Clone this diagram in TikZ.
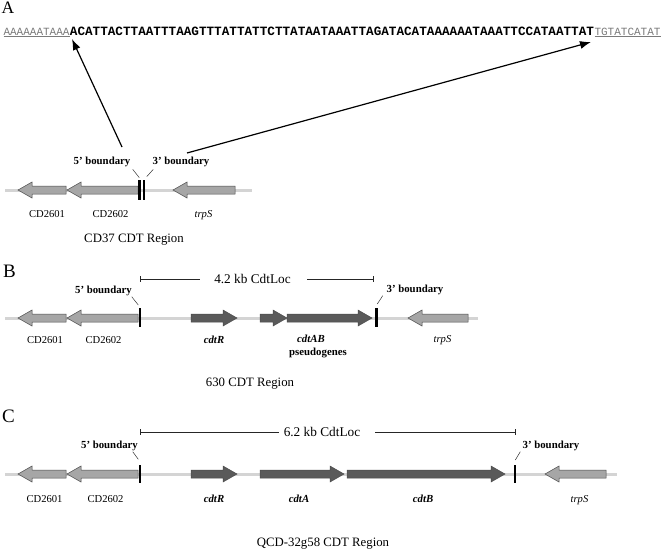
\documentclass[tikz,border=0pt]{standalone}
\usepackage{fontspec}
\setmainfont{Liberation Serif}
\newfontfamily\seqfont{Liberation Mono}
\usetikzlibrary{arrows.meta}
\definecolor{lgene}{HTML}{A6A6A6}
\definecolor{dgene}{HTML}{5A5A5A}
\definecolor{gline}{HTML}{D4D4D4}
\definecolor{geneedge}{HTML}{4A4A4A}
\definecolor{seqgrey}{HTML}{7A7A7A}
% rightward gene: tail x, tip x, y, fill
\newcommand{\geneR}[4]{%
 \filldraw[geneedge, line width=0.5pt, fill=#4] (#1,{#3-4}) -- ({#2-14},{#3-4}) -- ({#2-14},{#3-8}) -- (#2,#3) -- ({#2-14},{#3+8}) -- ({#2-14},{#3+4}) -- (#1,{#3+4}) -- cycle;}
% leftward gene: tail x, tip x, y, fill
\newcommand{\geneL}[4]{%
 \filldraw[geneedge, line width=0.5pt, fill=#4] (#1,{#3-4}) -- ({#2+14},{#3-4}) -- ({#2+14},{#3-8}) -- (#2,#3) -- ({#2+14},{#3+8}) -- ({#2+14},{#3+4}) -- (#1,{#3+4}) -- cycle;}
\begin{document}
\begin{tikzpicture}[x=1pt,y=-1pt,
  lbl/.style={font=\fontsize{10.6}{12}\selectfont, inner sep=0, anchor=base},
  ilbl/.style={font=\fontsize{10.6}{12}\selectfont\itshape, inner sep=0, anchor=base},
  bilbl/.style={font=\fontsize{10.8}{12}\selectfont\bfseries\itshape, inner sep=0, anchor=base},
  blbl/.style={font=\fontsize{10.8}{12}\selectfont\bfseries, inner sep=0, anchor=base},
  ttl/.style={font=\fontsize{12.8}{14}\selectfont, inner sep=0, anchor=base},
  sclbl/.style={font=\fontsize{13.3}{15}\selectfont, inner sep=0, anchor=base},
  letter/.style={font=\fontsize{19}{21}\selectfont, inner sep=0, anchor=base west},
  chrom/.style={gline, line width=3pt},
  bnd/.style={black, line width=2.5pt},
  leader/.style={black!80, line width=0.5pt},
  scalebar/.style={black!85, line width=0.9pt},
  tickmark/.style={black!85, line width=0.9pt},
  arr/.style={black, line width=1.2pt, -{Latex[length=11pt,width=8pt]}}
]
\useasboundingbox (0,0) rectangle (664,549);

% ---------------- Panel A ----------------
\node[letter, font=\fontsize{17.5}{19}\selectfont] (lA) at (1.5,13.5) {A};
\node[inner sep=0, anchor=base west, text=seqgrey, font=\fontsize{11}{12}\seqfont] (s1) at (3.3,35) {\underline{AAAAAATAAA}};
\node[inner sep=0, anchor=base west, font=\fontsize{12.66}{14}\seqfont\bfseries] (s2) at (s1.base east) {ACATTACTTAATTTAAGTTTATTATTCTTATAATAAATTAGATACATAAAAAATAAATTCCATAATTAT};
\node[inner sep=0, anchor=base west, text=seqgrey, font=\fontsize{11}{12}\seqfont] (s3) at (s2.base east) {\underline{TGTATCATAT}};

\draw[chrom] (5,190) -- (252,190);
\geneL{66}{18}{190}{lgene}
\geneL{138}{67}{190}{lgene}
\geneL{235}{173}{190}{lgene}
\draw[bnd] (139.5,180) -- (139.5,200);
\draw[bnd] (143.8,180) -- (143.8,200);

\node[blbl] (a5) at (102,164.5) {5’ boundary};
\node[blbl] (a3) at (181,164.5) {3’ boundary};
\draw[leader] (132.7,169.3) -- (139.3,177.7);
\draw[leader] (153.3,169.3) -- (146.7,176.7);

\coordinate (a5tail) at (122,147);
\coordinate (a5tip) at (72,39);
\coordinate (a3tail) at (187,153);
\coordinate (a3tip) at (591,42);
\draw[arr] (a5tail) -- (a5tip);
\draw[arr] (a3tail) -- (a3tip);

\node[lbl] (aCD1) at (47,217) {CD2601};
\node[lbl] (aCD2) at (110.5,217) {CD2602};
\node[ilbl] (atrp) at (203.5,217) {trpS};
\node[ttl] (atitle) at (134,242) {CD37 CDT Region};

% ---------------- Panel B ----------------
\node[letter] (lB) at (3,277) {B};
\coordinate (bsL) at (140,279);
\coordinate (bsR) at (373,279);
\node[sclbl] (bsc) at (252.5,283.4) {4.2 kb CdtLoc};
\draw[scalebar] (bsL) -- (200,279);
\draw[scalebar] (307,279) -- (bsR);
\draw[tickmark] (140,276) -- (140,282);
\draw[tickmark] (373,276) -- (373,282);

\draw[chrom] (5,318) -- (478,318);
\geneL{66}{18}{318}{lgene}
\geneL{138}{67}{318}{lgene}
\geneR{191}{237}{318}{dgene}
\geneR{260}{287}{318}{dgene}
\geneR{287}{372}{318}{dgene}
\geneL{468}{408}{318}{lgene}
\draw[bnd] (140,308) -- (140,327);
\draw[bnd] (376.7,308) -- (376.7,327);

\node[blbl] (b5) at (103.5,293.5) {5’ boundary};
\node[blbl] (b3) at (415,292.5) {3’ boundary};
\draw[leader] (131.7,296.7) -- (138.3,305);
\draw[leader] (377.3,304) -- (382.7,295.7);

\node[lbl] (bCD1) at (45,343.5) {CD2601};
\node[lbl] (bCD2) at (103.5,343.5) {CD2602};
\node[bilbl] (bR) at (214,343.5) {cdtR};
\node[bilbl] (bAB) at (311,342.5) {cdtAB};
\node[blbl] (bps) at (318,355) {pseudogenes};
\node[ilbl] (btrp) at (442.5,342) {trpS};
\node[ttl] (btitle) at (250,386) {630 CDT Region};

% ---------------- Panel C ----------------
\node[letter] (lC) at (2,422) {C};
\coordinate (csL) at (140,432);
\coordinate (csR) at (515,432);
\node[sclbl] (csc) at (322,436.4) {6.2 kb CdtLoc};
\draw[scalebar] (csL) -- (279,432);
\draw[scalebar] (375,432) -- (csR);
\draw[tickmark] (140,429) -- (140,435);
\draw[tickmark] (515,429) -- (515,435);

\draw[chrom] (5,474) -- (617,474);
\geneL{66}{18}{474}{lgene}
\geneL{138}{67}{474}{lgene}
\geneR{191}{237}{474}{dgene}
\geneR{260}{344}{474}{dgene}
\geneR{347}{505}{474}{dgene}
\geneL{606}{545}{474}{lgene}
\draw[bnd] (140,465) -- (140,483);
\draw[bnd] (515,465) -- (515,483);

\node[blbl] (c5) at (109.5,448.5) {5’ boundary};
\node[blbl] (c3) at (551,448.5) {3’ boundary};
\draw[leader] (132.7,451.7) -- (138.3,459.3);
\draw[leader] (515.3,460) -- (520.3,451.7);

\node[lbl] (cCD1) at (44.5,502.5) {CD2601};
\node[lbl] (cCD2) at (105.5,502.5) {CD2602};
\node[bilbl] (cR) at (214,502.5) {cdtR};
\node[bilbl] (cA) at (299,502.5) {cdtA};
\node[bilbl] (cB) at (423,502.5) {cdtB};
\node[ilbl] (ctrp) at (579.5,502.5) {trpS};
\node[ttl] (ctitle) at (323,546) {QCD-32g58 CDT Region};
\end{tikzpicture}
\end{document}
